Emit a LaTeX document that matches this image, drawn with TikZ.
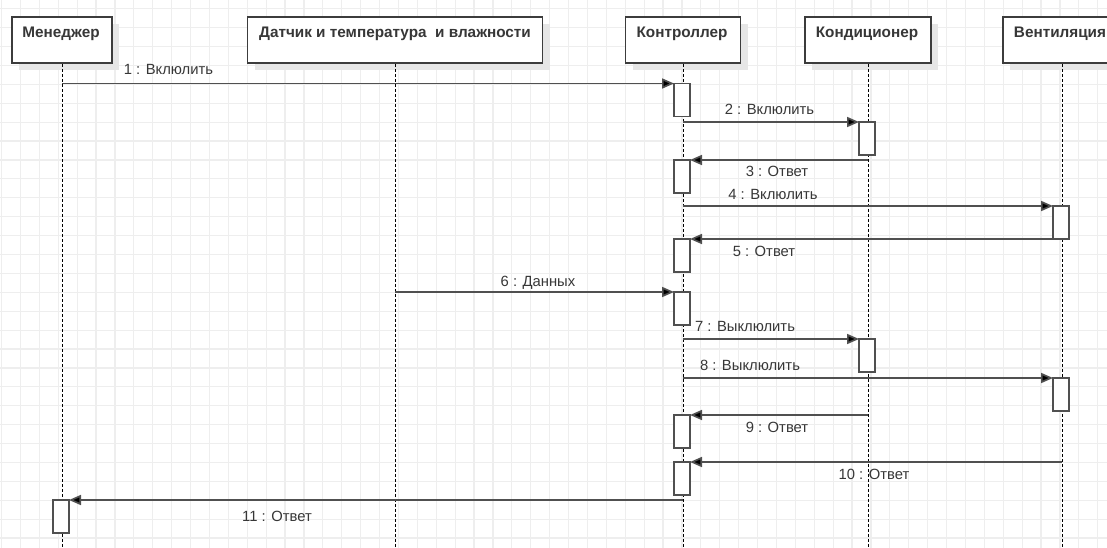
\documentclass[tikz,border=0pt]{standalone}
\usepackage{fontspec}
\setmainfont{Liberation Sans}
\usetikzlibrary{arrows.meta}
\definecolor{gridc}{RGB}{238,238,238}
\definecolor{shadowc}{RGB}{230,230,230}
\definecolor{boxc}{RGB}{60,60,60}
\definecolor{linec}{RGB}{80,80,80}
\definecolor{textc}{RGB}{55,55,55}
\tikzset{
  hdrbox/.style={draw=boxc, line width=1.7pt, fill=white, rectangle, inner sep=0pt,
    minimum height=46pt},
  hdrshadow/.style={fill=shadowc, draw=none},
  hdrtext/.style={font=\fontsize{15.3}{17}\selectfont\bfseries, text=textc, inner sep=0pt, anchor=base},
  lifeline/.style={draw=black, line width=1pt, dash pattern=on 3pt off 2pt},
  actbox/.style={draw=linec, line width=1.6pt, fill=white, rectangle, inner sep=0pt,
    outer sep=0pt, minimum width=16pt, minimum height=33pt, anchor=north},
  msg/.style={draw=linec, line width=1.7pt, -{Triangle[length=12pt,width=10pt,fill=black]}},
  msgtext/.style={font=\fontsize{14.8}{17}\selectfont, text=textc, inner sep=0pt, anchor=base}
}
\begin{document}
\begin{tikzpicture}[x=1pt,y=-1pt]
  % canvas and grid
  \fill[white] (0,0) rectangle (1107,548);
  \useasboundingbox (0,0) rectangle (1107,548);
  \begin{scope}
    \clip (0,0) rectangle (1107,548);
    \foreach \k in {0,...,58} {
      \draw[gridc, line width=1.2pt] (1.5+18.9*\k,0) -- (1.5+18.9*\k,548);
    }
    \foreach \k in {0,...,29} {
      \draw[gridc, line width=1.2pt] (0,8.8+18.9*\k) -- (1107,8.8+18.9*\k);
    }
  \end{scope}
  \coordinate (bottom) at (0,548);

  % participant boxes with their shadows
  \begin{scope}
    \clip (0,0) rectangle (1107,548);
    \foreach \cx/\w in {62/100, 395/295, 683/115, 868/126, 1062/118} {
      \fill[hdrshadow] (\cx-\w/2+7,24) rectangle (\cx+\w/2+7,70);
    }
    \node[hdrbox, minimum width=100pt] (mgr) at (62,40) {};
    \node[hdrbox, minimum width=295pt] (dat) at (395,40) {};
    \node[hdrbox, minimum width=115pt] (ctl) at (683,40) {};
    \node[hdrbox, minimum width=126pt] (knd) at (868,40) {};
    \node[hdrbox, minimum width=118pt] (ven) at (1062,40) {};
  \end{scope}
  \node[hdrtext] (mgr-t) at (61,38) {Менеджер};
  \node[hdrtext] (dat-t) at (395,38) {Датчик и температура\ \ и влажности};
  \node[hdrtext] (ctl-t) at (682,38) {Контроллер};
  \node[hdrtext] (knd-t) at (867,38) {Кондиционер};
  \node[hdrtext] (ven-t) at (1060,38) {Вентиляция};

  % lifelines
  \foreach \p in {mgr, dat, ctl, knd, ven} {
    \draw[lifeline] (\p.south) -- (\p.south |- bottom);
  }

  % activation bars
  \node[actbox] (a1) at (682,83.5) {};
  \node[actbox] (a2) at (682,160) {};
  \node[actbox] (a3) at (682,239) {};
  \node[actbox] (a4) at (682,292) {};
  \node[actbox] (a5) at (682,415) {};
  \node[actbox] (a6) at (682,462) {};
  \node[actbox] (k1) at (867,122) {};
  \node[actbox] (k2) at (867,339) {};
  \node[actbox] (v1) at (1061,206) {};
  \node[actbox] (v2) at (1061,378) {};
  \node[actbox] (m1) at (61,500) {};

  % messages
  \draw[msg] (a1.north west -| mgr) -- (a1.north west);
  \draw[msg] (k1.north west -| ctl) -- (k1.north west);
  \draw[msg] (a2.north east -| knd) -- (a2.north east);
  \draw[msg] (v1.north west -| ctl) -- (v1.north west);
  \draw[msg] (v1.south west) -- (a3.north east);
  \draw[msg] (a4.north west -| dat) -- (a4.north west);
  \draw[msg] (k2.north west -| ctl) -- (k2.north west);
  \draw[msg] (v2.north west -| ctl) -- (v2.north west);
  \draw[msg] (a5.north east -| knd) -- (a5.north east);
  \draw[msg] (a6.north east -| ven) -- (a6.north east);
  \draw[msg] (m1.north east -| ctl) -- (m1.north east);

  % message labels
  \node[msgtext] (l1) at (168.5,75) {1 : Вклюлить};
  \node[msgtext] (l2) at (769.5,114.5) {2 : Вклюлить};
  \node[msgtext] (l3) at (777,176) {3 : Ответ};
  \node[msgtext] (l4) at (773,199.5) {4 : Вклюлить};
  \node[msgtext] (l5) at (764,256.5) {5 : Ответ};
  \node[msgtext] (l6) at (538,286) {6 : Данных};
  \node[msgtext] (l7) at (745,331.5) {7 : Выклюлить};
  \node[msgtext] (l8) at (750,370.5) {8 : Выклюлить};
  \node[msgtext] (l9) at (777,432) {9 : Ответ};
  \node[msgtext] (l10) at (874,479) {10 : Ответ};
  \node[msgtext] (l11) at (277,521.5) {11 : Ответ};
\end{tikzpicture}
\end{document}
